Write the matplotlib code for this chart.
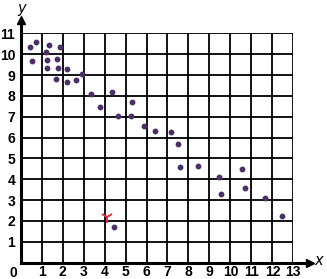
import matplotlib.pyplot as plt

# scatter data
x_vals = [0.44, 0.71, 0.54, 1.19, 1.35, 1.87, 1.24, 1.72, 1.24, 1.76, 2.19, 1.67,
          2.21, 2.64, 2.92, 3.34, 4.35, 3.78, 5.31, 4.64, 5.25, 5.87, 6.40, 7.15,
          7.49, 7.60, 8.44, 4.45, 9.46, 9.55, 10.54, 10.68, 11.65, 12.46]
y_vals = [10.36, 10.58, 9.67, 10.12, 10.46, 10.36, 9.72, 9.77, 9.34, 9.34, 9.30, 8.81,
          8.68, 8.78, 9.05, 8.09, 8.20, 7.48, 7.72, 7.04, 7.04, 6.56, 6.33, 6.27,
          5.71, 4.59, 4.65, 1.73, 4.11, 3.29, 4.51, 3.60, 3.12, 2.24]
mark_x = [4.13]
mark_y = [2.20]
x_ticks = list(range(1, 14))
y_ticks = list(range(1, 12))

fig = plt.figure(figsize=(3.27, 2.79), dpi=100)
ax = fig.add_axes([20.7 / 327, (279 - 262.7) / 279, 272.6 / 327, 229.4 / 279])
ax.set_xlim(0, 13)
ax.set_ylim(0, 11)

for i in range(1, 14):
    ax.axvline(i, color='black', lw=1.3, zorder=1)
for j in range(1, 12):
    ax.axhline(j, color='black', lw=1.3, zorder=1)
for s in ax.spines.values():
    s.set_visible(False)

# axes with arrows
ax.plot([0, 13.75], [0, 0], color='black', lw=2.2, clip_on=False, zorder=3)
ax.plot([0, 0], [0, 11.6], color='black', lw=2.2, clip_on=False, zorder=3)
ax.plot([13.8], [0], marker='>', color='black', ms=6, clip_on=False)
ax.plot([0], [11.65], marker='^', color='black', ms=6, clip_on=False)
ax.text(14.0, 0.1, 'x', fontsize=10.5, style='italic', ha='left', va='center')
ax.text(0.05, 12.2, 'y', fontsize=10.5, style='italic', ha='center', va='center')

ax.set_xticks(x_ticks)
ax.set_yticks(y_ticks)
ax.set_xticklabels([str(t) for t in x_ticks], fontfamily='Liberation Sans',
                   fontweight='bold', fontsize=10)
ax.set_yticklabels([str(t) for t in y_ticks], fontfamily='Liberation Sans',
                   fontweight='bold', fontsize=10)
ax.tick_params(axis='x', length=0, pad=1.5)
ax.tick_params(axis='y', length=0, pad=4)
ax.text(-0.35, -0.15, '0', fontfamily='Liberation Sans', fontweight='bold',
        fontsize=10, ha='center', va='top')

ax.plot(x_vals, y_vals, 'o', color='#4b3068', ms=3.2, zorder=4, clip_on=False)
ax.plot(mark_x, mark_y, marker='1', color='#e03040', ms=9, mew=1.4, ls='none', zorder=4)

fig.savefig('out.png', dpi=100)
